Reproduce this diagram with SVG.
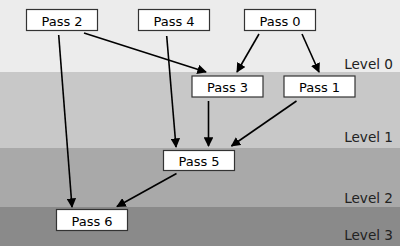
<svg xmlns="http://www.w3.org/2000/svg" width="400" height="246" viewBox="0 0 400 246">
<style>
.node rect{fill:#fff;stroke:#333;stroke-width:1.2}
.node text{font-family:"DejaVu Sans",sans-serif;font-size:13px;text-anchor:middle;fill:#000}
.lvl{font-family:"DejaVu Sans",sans-serif;font-size:13.6px;text-anchor:end;fill:#222}
#edges line{stroke:#000;stroke-width:1.6;marker-end:url(#ah)}
</style>
<defs>
<marker id="ah" viewBox="0 0 10 10" refX="9" refY="5" markerWidth="6" markerHeight="6" orient="auto" markerUnits="strokeWidth">
<path d="M0,0 L10,5 L0,10 z" fill="#000"/>
</marker>
</defs>
<g id="bands">
<rect x="0" y="0" width="400" height="72" fill="#ececec"/>
<rect x="0" y="72" width="400" height="76" fill="#c8c8c8"/>
<rect x="0" y="148" width="400" height="59" fill="#a9a9a9"/>
<rect x="0" y="207" width="400" height="39" fill="#8a8a8a"/>
<text class="lvl" x="393" y="69">Level 0</text>
<text class="lvl" x="393" y="142">Level 1</text>
<text class="lvl" x="393" y="203">Level 2</text>
<text class="lvl" x="393" y="240">Level 3</text>
</g>
<g id="edges">
<line x1="84" y1="33" x2="206" y2="72"/>
<line x1="58.7" y1="35" x2="72" y2="207"/>
<line x1="166.7" y1="36" x2="176" y2="147"/>
<line x1="259" y1="34" x2="237" y2="72"/>
<line x1="302" y1="34" x2="319" y2="72"/>
<line x1="208.5" y1="101" x2="208.5" y2="146"/>
<line x1="296.5" y1="101" x2="231.5" y2="146"/>
<line x1="176.5" y1="173.5" x2="117" y2="206.5"/>
</g>
<g id="pass2" class="node"><rect x="26.5" y="9.5" width="71" height="21"/><text x="62" y="25.5">Pass 2</text></g>
<g id="pass4" class="node"><rect x="138.5" y="9.5" width="71" height="21"/><text x="174" y="25.5">Pass 4</text></g>
<g id="pass0" class="node"><rect x="244.5" y="9.5" width="71" height="21"/><text x="280" y="25.5">Pass 0</text></g>
<g id="pass3" class="node"><rect x="192" y="76" width="71" height="21"/><text x="227.5" y="92">Pass 3</text></g>
<g id="pass1" class="node"><rect x="284" y="76" width="71" height="21"/><text x="319.5" y="92">Pass 1</text></g>
<g id="pass5" class="node"><rect x="163.5" y="150.5" width="71" height="20"/><text x="199" y="166">Pass 5</text></g>
<g id="pass6" class="node"><rect x="56.5" y="209.5" width="71" height="21"/><text x="92" y="225.5">Pass 6</text></g>
</svg>
